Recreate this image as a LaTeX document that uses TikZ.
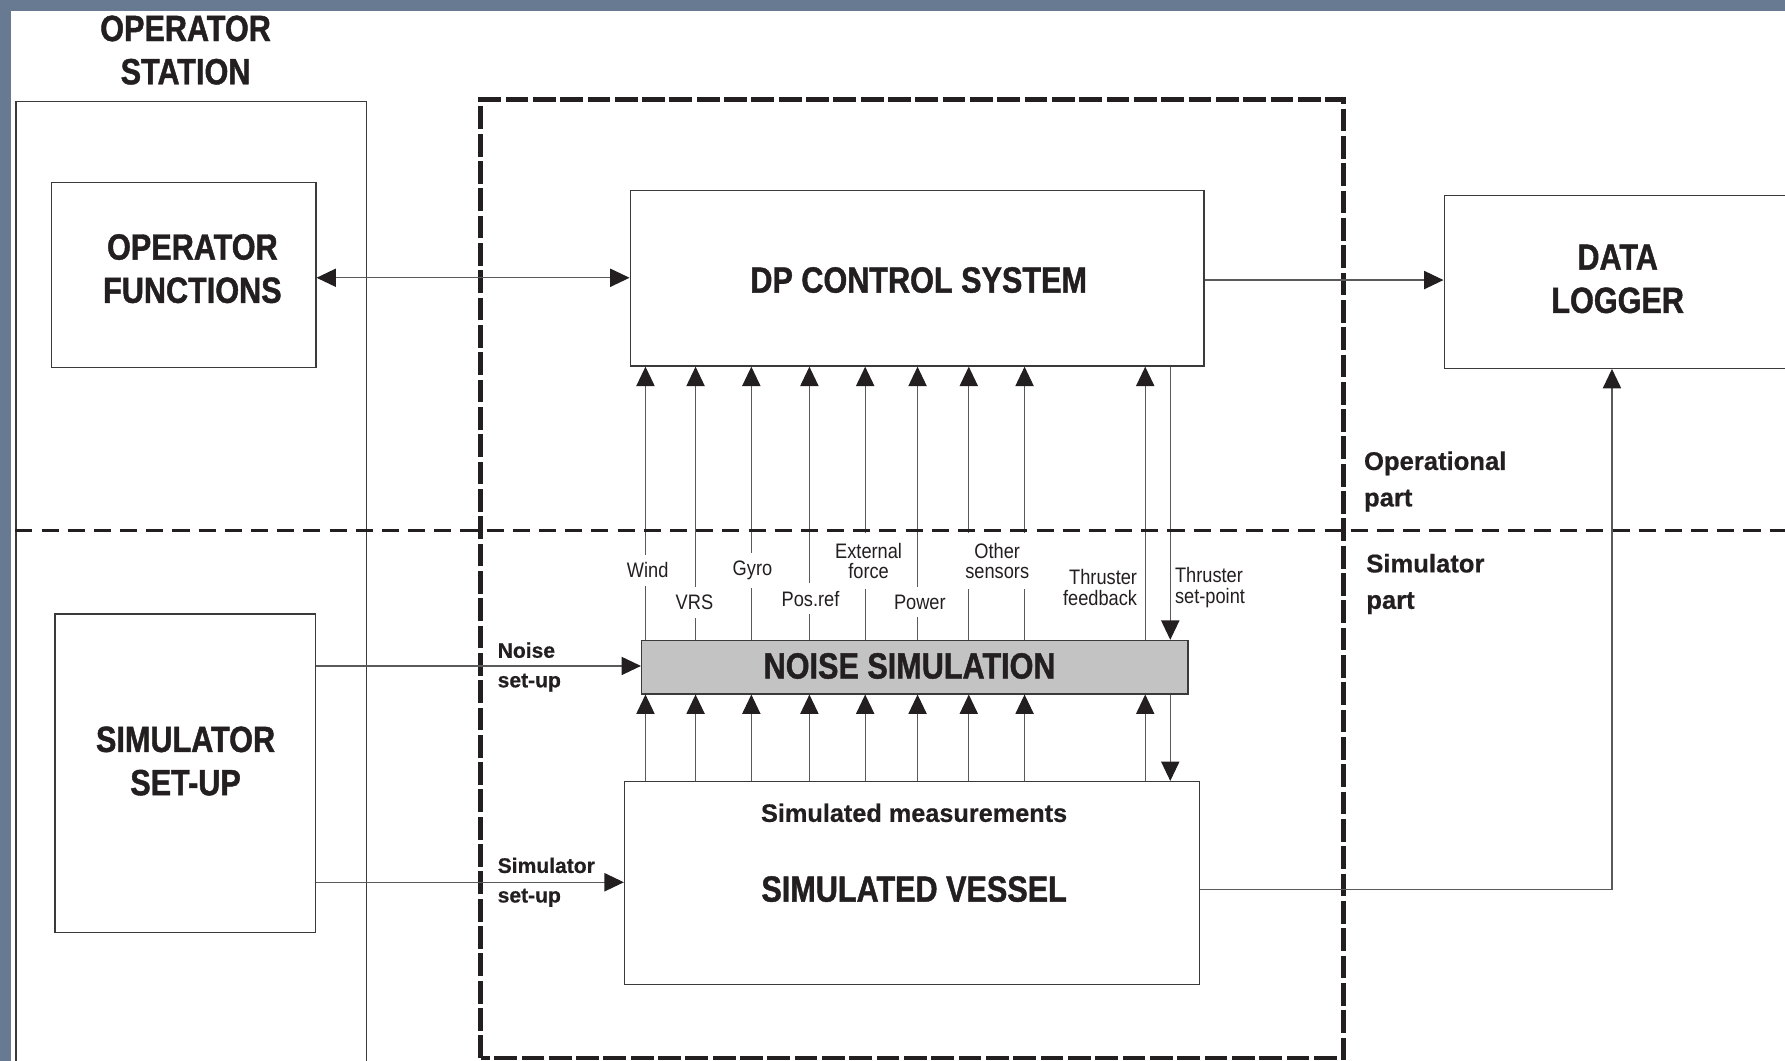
\documentclass[tikz,border=0pt]{standalone}
\usepackage{fontspec}
\setmainfont{Liberation Sans}[BoldFeatures={FakeBold=0.6}]
\newfontfamily\bigfont{Liberation Sans}[FakeStretch=0.84,BoldFeatures={FakeBold=1.2}]
\newfontfamily\lblfont{Liberation Sans}[FakeStretch=0.87]
\usetikzlibrary{arrows.meta}
\definecolor{framec}{HTML}{687992}
\definecolor{ink}{HTML}{231F20}
\definecolor{linec}{HTML}{5A5A5A}
\definecolor{boxc}{HTML}{3A3A3A}
\definecolor{noisegray}{HTML}{C3C3C3}
\begin{document}
\begin{tikzpicture}[x=1pt,y=-1pt,
  >={Triangle[length=17pt,width=16pt,color=ink]},
  boxst/.style={draw=boxc, line width=1.1pt, inner sep=0pt, anchor=north west, text=ink},
  conn/.style={draw=linec, line width=1pt},
  bigtxt/.style={font=\bigfont\bfseries\fontsize{32}{38}\selectfont, align=center, text=ink, inner sep=0pt},
  medtxt/.style={font=\bfseries\fontsize{22.5}{32}\selectfont, align=left, text=ink, anchor=west, inner sep=0pt},
  smltxt/.style={font=\bfseries\fontsize{18.5}{26}\selectfont, align=left, text=ink, anchor=west, inner sep=0pt},
  lbl/.style={font=\lblfont\fontsize{18.4}{18}\selectfont, align=center, text=ink, fill=white, inner xsep=2pt, inner ysep=7pt},
  lbltwo/.style={lbl, inner ysep=9pt}
]
\useasboundingbox (0,0) rectangle (1568,932);
\clip (0,0) rectangle (1568,932);
\fill[white] (0,0) rectangle (1568,932);
\fill[framec] (0,0) rectangle (1568,9.7);
\fill[framec] (0,0) rectangle (9.7,932);

% operator station
\node[boxst, minimum width=307.7pt, minimum height=900pt] (opst) at (13.5,88.8) {};
\node[bigtxt] (opsttitle) at (163,44) {OPERATOR\\STATION};
\node[boxst, minimum width=232pt, minimum height=162pt] (opfun) at (45,160) {};
\node[bigtxt] (opfuntxt) at (169,236) {OPERATOR\\FUNCTIONS};
\node[boxst, minimum width=229pt, minimum height=280pt] (ss) at (47.7,538.8) {};
\node[bigtxt] (sstxt) at (163,668.5) {SIMULATOR\\SET-UP};

% dashed frame
\draw[ink, line width=4pt, dash pattern=on 20pt off 4pt] (422.3,929.5) -- (422.3,87.3) -- (1180,87.3) -- (1180,929.5) -- cycle;

% main blocks
\node[boxst, minimum width=504pt, minimum height=154pt] (dp) at (553,167) {};
\node[bigtxt] (dptxt) at (807,246) {DP CONTROL SYSTEM};
\node[boxst, minimum width=440pt, minimum height=152pt] (dl) at (1268,171) {};
\node[bigtxt] (dltxt) at (1421,245) {DATA\\LOGGER};
\node[boxst, fill=noisegray, minimum width=480pt, minimum height=47pt] (noise) at (563,562) {};
\node[bigtxt] (noisetxt) at (799,585) {NOISE SIMULATION};
\node[boxst, minimum width=505pt, minimum height=178pt] (ves) at (548,686) {};
\node[font=\bfseries\fontsize{22.2}{26}\selectfont, text=ink, inner sep=0pt] (meas) at (803,714) {Simulated measurements};
\node[bigtxt] (vestxt) at (803,781) {SIMULATED VESSEL};

% connectors
\draw[conn,<->] (opfun.east |- 0,244) -- (dp.west |- 0,244);
\draw[conn,->] (dp.east |- 0,246) -- (dl.west |- 0,246);
\draw[conn,->] (ss.east |- 0,585) -- (noise.west |- 0,585);
\draw[conn,->] (ss.east |- 0,775) -- (ves.west |- 0,775);
\draw[conn,->] (ves.east |- 0,781) -| (dl.south -| 1416,0);

\foreach \x in {567,611,660,711,760,806,851,900,1006} {
  \draw[conn,->] (noise.north -| \x,0) -- (dp.south -| \x,0);
  \draw[conn,->] (ves.north -| \x,0) -- (noise.south -| \x,0);
}
\draw[conn,->] (dp.south -| 1028,0) -- (noise.north -| 1028,0);
\draw[conn,->] (noise.south -| 1028,0) -- (ves.north -| 1028,0);

% signal labels
\node[lbl] (lwind) at (569,501) {Wind};
\node[lbl] (lvrs) at (610,529) {VRS};
\node[lbl] (lgyro) at (661,501) {Gyro};
\node[lbl] (lpos) at (712,526) {Pos.ref};
\node[lbltwo] (lext) at (763,493) {External\\force};
\node[lbl] (lpow) at (808,529) {Power};
\node[lbltwo] (loth) at (876,493) {Other\\sensors};
\node[lbl, fill=none, align=right, anchor=east] (ltfb) at (1001,516) {Thruster\\feedback};
\node[lbl, fill=none, align=left, anchor=west] (ltsp) at (1030,516) {Thruster\\set-point};

% set-up labels
\node[smltxt] (lnoise) at (437,586) {Noise\\set-up};
\node[smltxt] (lsim) at (437,775) {Simulator\\set-up};

% part separator
\draw[ink, line width=3.5pt, dash pattern=on 15pt off 8pt] (13.5,466) -- (1568,466);
\node[medtxt] (oppart) at (1198,423) {Operational\\part};
\node[medtxt] (simpart) at (1200,513) {Simulator\\part};
\end{tikzpicture}
\end{document}
